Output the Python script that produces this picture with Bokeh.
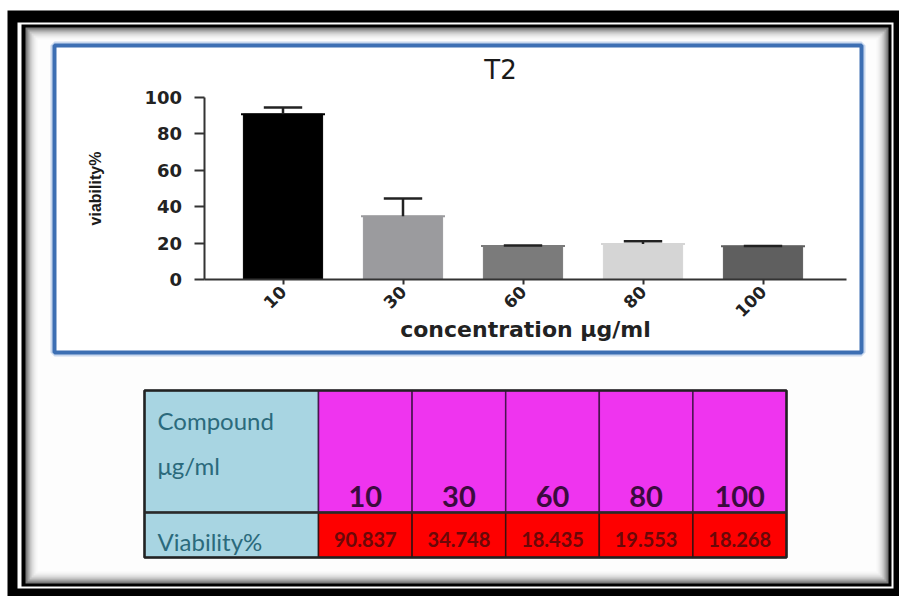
import math
from bokeh.plotting import figure
from bokeh.models import Range1d, LinearAxis, FixedTicker
from bokeh.core.properties import value
from bokeh.embed import file_html
from bokeh.resources import INLINE

# ---------------- data ----------------
concentrations = ["10", "30", "60", "80", "100"]
viability = [90.837, 34.748, 18.435, 19.553, 18.268]
error_up = [3.7, 9.8, 0.3, 1.4, 0.2]
bar_colors = ["#000000", "#9b9b9e", "#7b7b7b", "#d5d5d5", "#5f5f5f"]
y_ticks = [0, 20, 40, 60, 80, 100]
title_text = "T2"
y_label = "viability%"
x_label = "concentration \u03bcg/ml"
table_head = ["Compound", "\u03bcg/ml"]
table_row_label = "Viability%"
table_values = ["90.837", "34.748", "18.435", "19.553", "18.268"]

# ---------------- layout constants (screen pixels) ----------------
W, H = 899, 596
PLOT_L, PLOT_R = 203.5, 846.0
PLOT_T, PLOT_B = 97.0, 279.0
Y_MAX = 100.0
X0, DX = 282.5, 120.0          # screen x of first category centre, category step

positions = list(range(1, len(concentrations) + 1))

def bx(sx):
    return 1 + (sx - X0) / DX

k = (PLOT_B - PLOT_T) / Y_MAX

p = figure(width=W, height=H, x_range=Range1d(0, W), y_range=Range1d(H, 0),
           x_axis_type=None, y_axis_type=None, toolbar_location=None,
           output_backend="svg", min_border=0, outline_line_color=None,
           background_fill_color="white", border_fill_color="white")
p.extra_x_ranges = {"bx": Range1d(bx(0), bx(W))}
p.extra_y_ranges = {"by": Range1d((PLOT_B - H) / k, PLOT_B / k)}

# ---------------- decorative frame ----------------
p.quad(left=[7], right=[W + 5], top=[10], bottom=[H + 5], fill_color="black", line_color=None)
p.quad(left=[17], right=[893], top=[22], bottom=[588], fill_color="white", line_color=None)
p.quad(left=[21], right=[891], top=[24], bottom=[586], fill_color="black", line_color=None)
shades = ["#7a7a7a", "#a2a2a2", "#c4c4c4", "#dcdcdc", "#ececec", "#f7f7f7"]
for i, c in enumerate(shades):
    d = 2 * i
    p.quad(left=[25 + d], right=[888 - d], top=[27 + d], bottom=[583 - d],
           fill_color=c, line_color=None)
p.quad(left=[37], right=[876], top=[39], bottom=[571], fill_color="#fdfdfd", line_color=None)

# blue box
p.quad(left=[54], right=[861], top=[45], bottom=[352], fill_color=None,
       line_color="#c9d8ee", line_width=8)
p.quad(left=[54], right=[861], top=[45], bottom=[352], fill_color="white",
       line_color="#3d6fb3", line_width=4)

# ---------------- bar chart ----------------
p.vbar(x=positions, top=viability, bottom=0, width=0.66, fill_color=bar_colors,
       line_color=bar_colors, x_range_name="bx", y_range_name="by")
p.segment(x0=[x - 0.35 for x in positions], y0=viability,
          x1=[x + 0.35 for x in positions], y1=viability,
          line_color=bar_colors, line_width=2, x_range_name="bx", y_range_name="by")
tops = [v + e for v, e in zip(viability, error_up)]
p.segment(x0=positions, y0=viability, x1=positions, y1=tops, line_color="#222222",
          line_width=2.5, x_range_name="bx", y_range_name="by")
p.segment(x0=[x - 0.16 for x in positions], y0=tops, x1=[x + 0.16 for x in positions],
          y1=tops, line_color="#222222", line_width=2.5, x_range_name="bx", y_range_name="by")

yax = LinearAxis(x_range_name="bx", y_range_name="by", fixed_location=bx(PLOT_L),
                 bounds=(0, Y_MAX), ticker=FixedTicker(ticks=y_ticks),
                 axis_label=y_label)
yax.axis_line_width = 2
yax.axis_line_color = "#333333"
yax.major_tick_line_width = 2
yax.major_tick_line_color = "#333333"
yax.major_tick_out = 10
yax.major_tick_in = 0
yax.minor_tick_line_color = None
yax.major_label_standoff = 12
yax.major_label_text_font = "DejaVu Sans"
yax.major_label_text_font_style = "bold"
yax.major_label_text_font_size = "18px"
yax.major_label_text_color = "#222222"
yax.axis_label_text_font = "Liberation Sans, Arial, sans-serif"
yax.axis_label_text_font_style = "bold"
yax.axis_label_text_font_size = "16px"
yax.axis_label_text_color = "#1a1a1a"
yax.axis_label_standoff = 38
p.add_layout(yax, "left")

xax = LinearAxis(x_range_name="bx", y_range_name="by", fixed_location=0,
                 bounds=(bx(PLOT_L), bx(PLOT_R)), ticker=FixedTicker(ticks=positions),
                 major_label_overrides={pos: lab for pos, lab in zip(positions, concentrations)},
                 major_label_orientation=math.pi / 4, axis_label=x_label)
xax.axis_line_width = 2
xax.axis_line_color = "#333333"
xax.major_tick_line_width = 2
xax.major_tick_line_color = "#333333"
xax.major_tick_out = 5
xax.major_tick_in = 0
xax.minor_tick_line_color = None
xax.major_label_standoff = 4
xax.major_label_text_font = "DejaVu Sans"
xax.major_label_text_font_style = "bold"
xax.major_label_text_font_size = "17px"
xax.major_label_text_color = "#222222"
xax.axis_label_text_font = "DejaVu Sans"
xax.axis_label_text_font_style = "bold"
xax.axis_label_text_font_size = "22px"
xax.axis_label_text_color = "#222222"
xax.axis_label_standoff = -9
p.add_layout(xax, "below")

p.text(x=[500], y=[69], text=[title_text], text_font=value("DejaVu Sans"),
       text_font_size="26px", text_align="center", text_baseline="middle",
       text_color="#1a1a1a")

# ---------------- table ----------------
T_L, T_LBL_R, T_R = 144.0, 318.0, 786.0
T_T, T_MID, T_B = 390.0, 512.0, 557.0
cw = (T_R - T_LBL_R) / len(concentrations)
col_l = [T_LBL_R + i * cw for i in range(len(concentrations))]
col_r = [l + cw for l in col_l]
col_c = [l + cw / 2 for l in col_l]

p.quad(left=[T_L, T_L], right=[T_LBL_R, T_LBL_R], top=[T_T, T_MID], bottom=[T_MID, T_B],
       fill_color="#a8d5e2", line_color="#2a3a40", line_width=1.5)
p.quad(left=col_l, right=col_r, top=[T_T] * len(col_l), bottom=[T_MID] * len(col_l),
       fill_color="#ef34ef", line_color="#4a1450", line_width=1.5)
p.quad(left=col_l, right=col_r, top=[T_MID] * len(col_l), bottom=[T_B] * len(col_l),
       fill_color="#fe0000", line_color="#3a1010", line_width=1.5)
p.quad(left=[T_L], right=[T_R], top=[T_T], bottom=[T_B], fill_color=None,
       line_color="#222222", line_width=2.5)
p.segment(x0=[T_L], y0=[T_MID], x1=[T_R], y1=[T_MID], line_color="#2a2a2a", line_width=2.5)

p.text(x=[157, 157], y=[420, 465], text=table_head, text_font=value("Lato"),
       text_font_size="24px", text_align="left", text_baseline="alphabetic",
       text_color="#2b6a7c")
p.text(x=[157], y=[541], text=[table_row_label], text_font=value("Lato"),
       text_font_size="24px", text_align="left", text_baseline="alphabetic",
       text_color="#2b6a7c")
p.text(x=col_c, y=[496] * len(col_c), text=concentrations, text_font=value("Lato"),
       text_font_style="bold", text_font_size="29px", text_align="center",
       text_baseline="alphabetic", text_color="#3b0b3f")
p.text(x=col_c, y=[539] * len(col_c), text=table_values, text_font=value("Lato"),
       text_font_style="bold", text_font_size="20px", text_align="center",
       text_baseline="middle", text_color="#6a0808")

open("out.html", "w").write(file_html(p, INLINE))
